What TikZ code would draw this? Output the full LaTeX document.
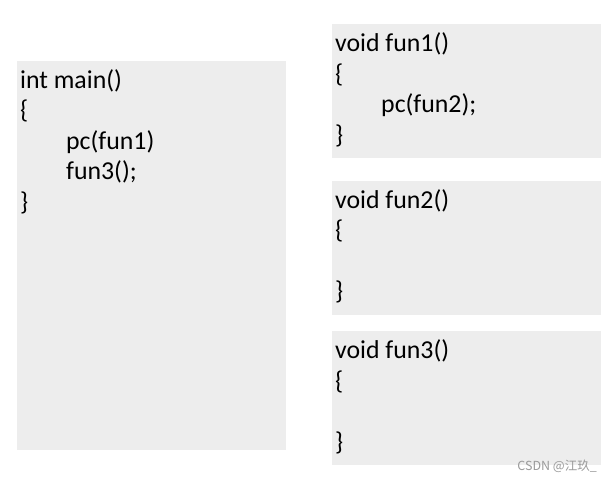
\documentclass[tikz,border=0pt]{standalone}
\usepackage{fontspec}
\setmainfont{Carlito}
\newfontfamily\cjkfont{Noto Sans CJK SC}
\usetikzlibrary{positioning}
\definecolor{boxgray}{HTML}{EDEDED}
\definecolor{markgray}{HTML}{9A9A9A}

\begin{document}
\begin{tikzpicture}[x=1pt,y=-1pt,
 codebox/.style={rectangle,fill=boxgray,draw=none,anchor=north west,inner sep=0pt},
 codetext/.style={anchor=base west,align=left,inner sep=0pt,font=\fontsize{25.8}{30.5}\selectfont},
]
    \useasboundingbox (0,0) rectangle (612,481);
    % code boxes
    \node[codebox,minimum width=269pt,minimum height=389pt] (mainbox) at (17,61) {};
    \node[codebox,minimum width=269pt,minimum height=134pt] (funbox1) at (332,24) {};
    \node[codebox,minimum width=269pt,minimum height=134pt] (funbox2) at (332,181) {};
    \node[codebox,minimum width=269pt,minimum height=134pt] (funbox3) at (332,331) {};
    % code (anchored at the baseline of the closing brace)
    \node[codetext] (maincode) at (20,210) {int main()\\ \{\\ \hspace*{46pt}pc(fun1)\\ \hspace*{46pt}fun3();\\ \}};
    \node[codetext] (funcode1) at (335,143.5) {void fun1()\\ \{\\ \hspace*{46pt}pc(fun2);\\ \}};
    \node[codetext] (funcode2) at (335,299.5) {void fun2()\\ \{\\ ~\\ \}};
    \node[codetext] (funcode3) at (335,450) {void fun3()\\ \{\\ ~\\ \}};
    \node[anchor=base east,inner sep=0pt,text=markgray,font=\cjkfont\fontsize{12.5}{14}\selectfont] (mark) at (597,470) {CSDN @江玖\_};
\end{tikzpicture}
\end{document}
